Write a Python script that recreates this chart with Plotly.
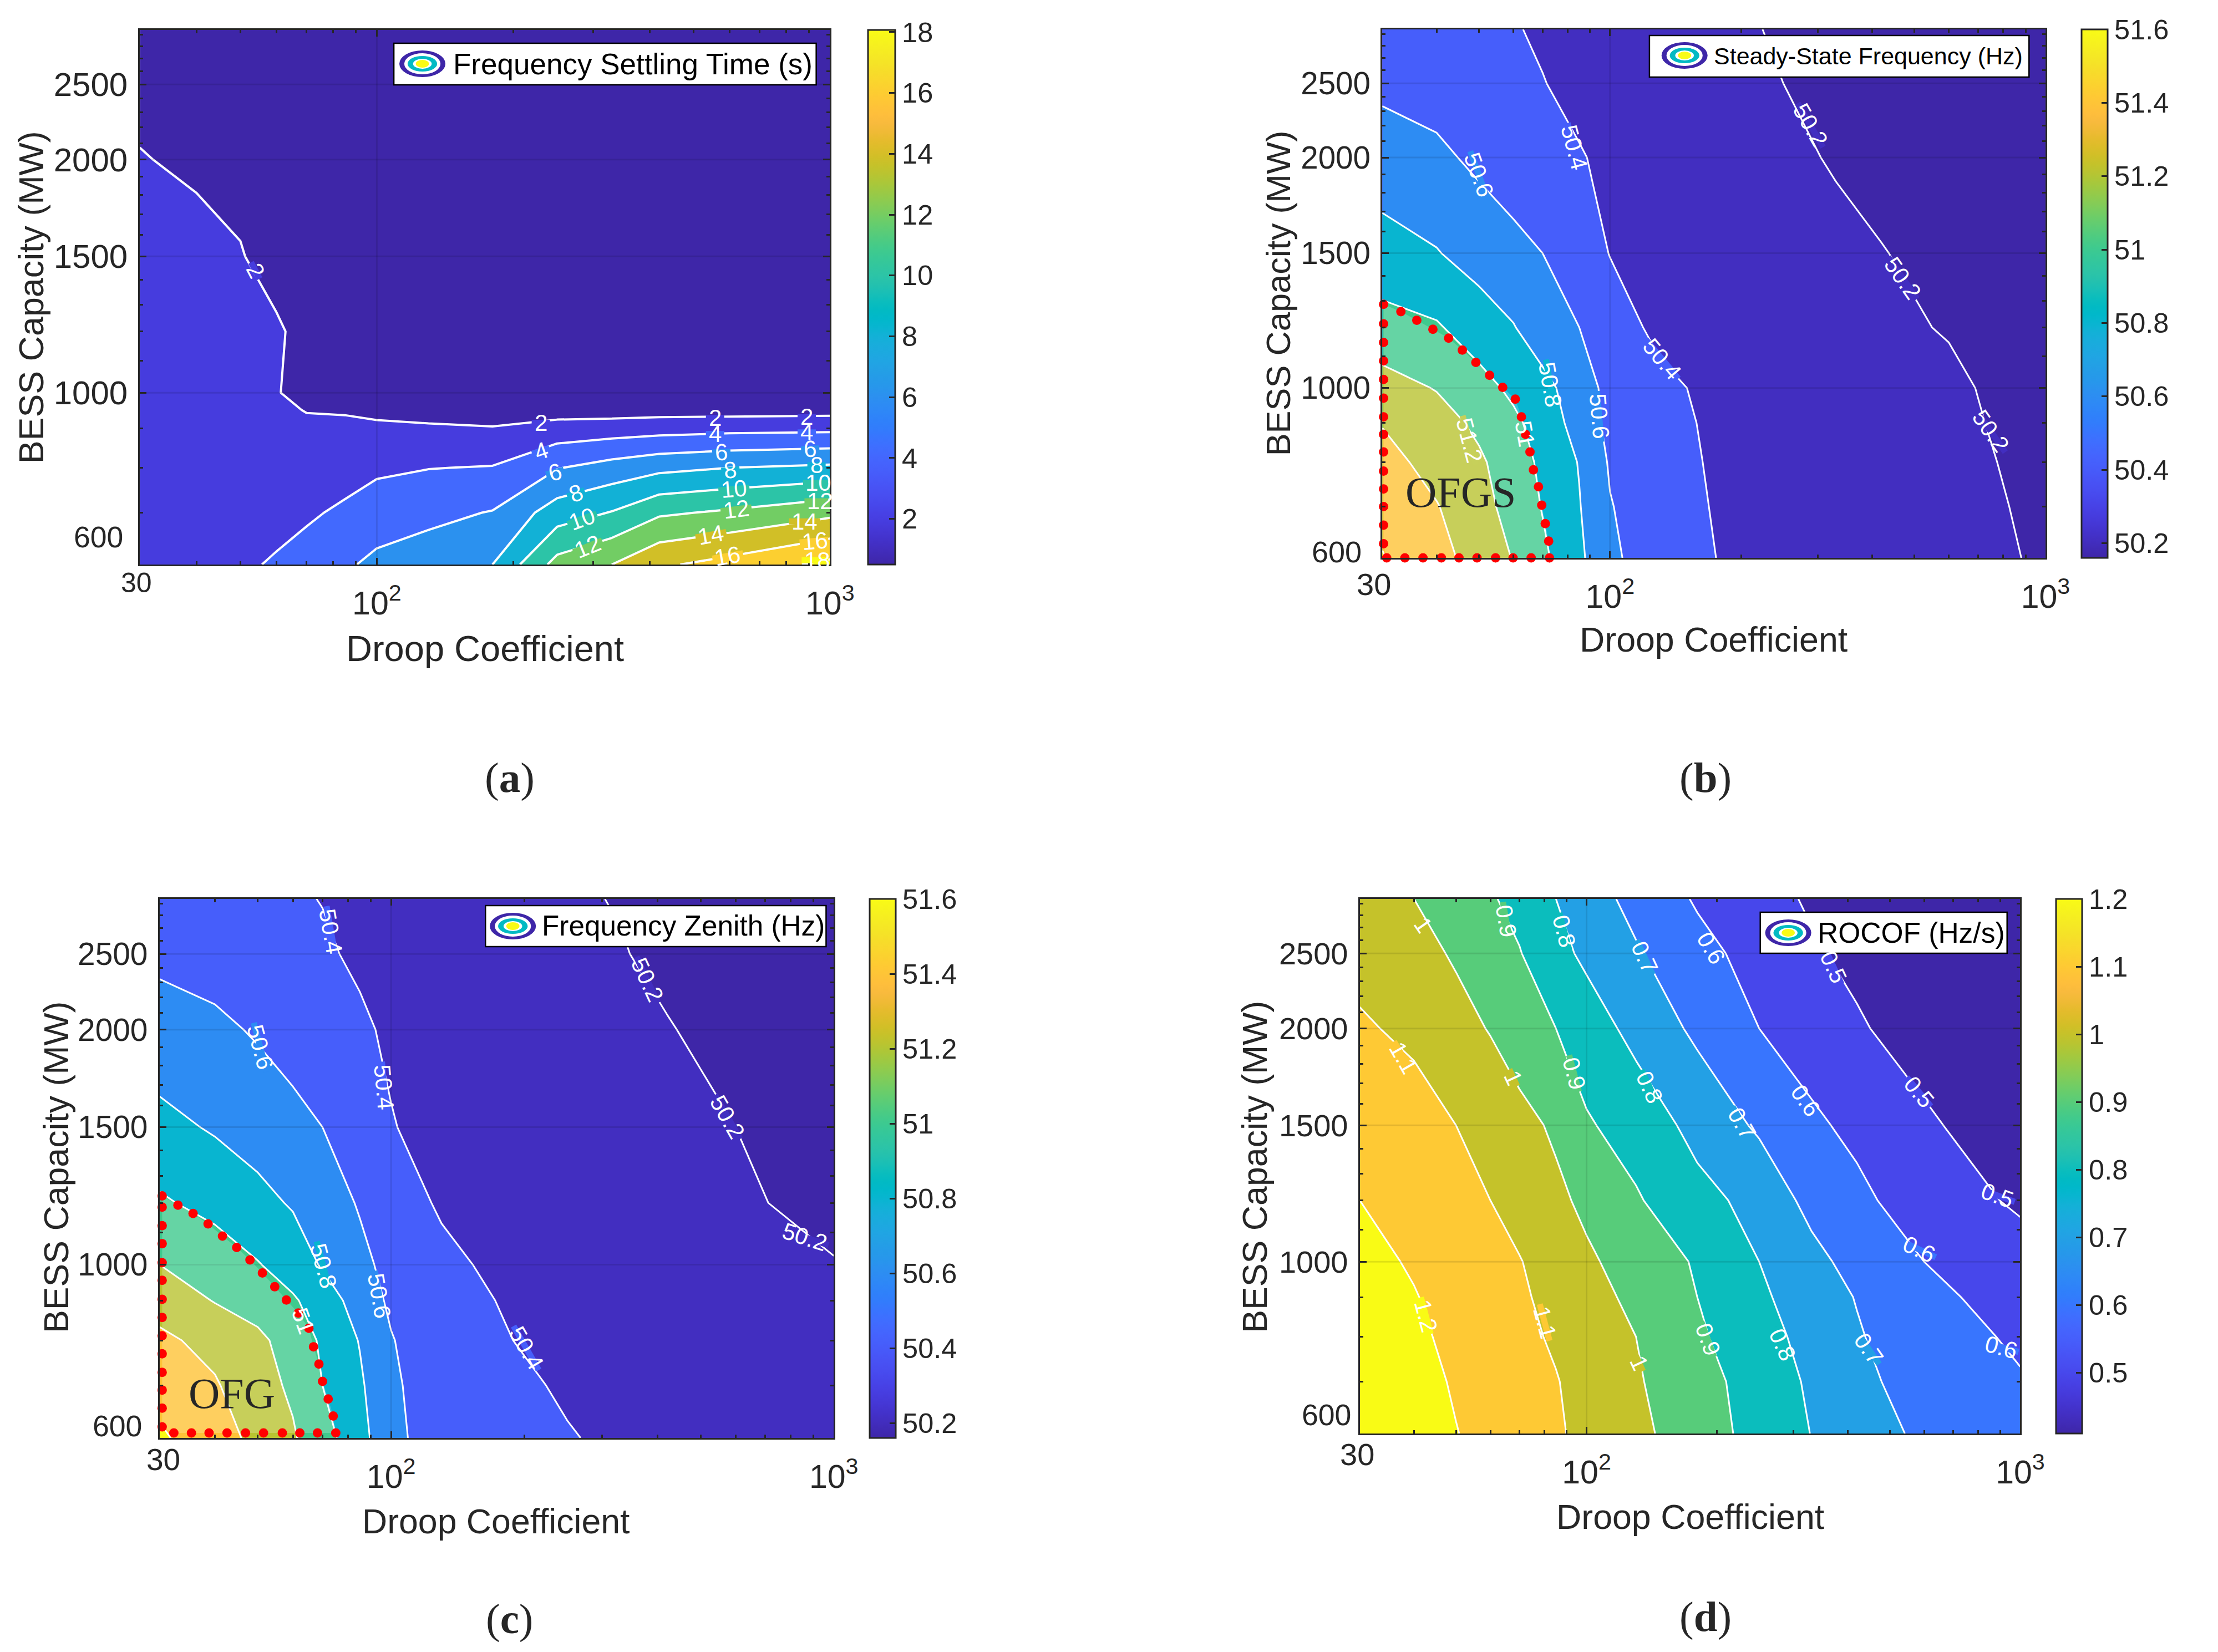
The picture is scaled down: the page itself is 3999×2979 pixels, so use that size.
import math
import plotly.graph_objects as go

W, H = 3999, 2979

# ---- data ----
DROOP = [30, 40, 50, 60, 70, 85, 100, 130, 180, 250, 330, 420, 600, 1000]

BESS_A = [600, 700, 800, 900, 950, 1000, 1200, 1500, 2000, 2500, 2940]
BESS = [600, 700, 800, 900, 1000, 1200, 1500, 2000, 2500, 2940]

SETTLING = [
    [3.0, 3.2, 3.7, 4.2, 4.7, 5.7, 6.5, 7.0, 8.0, 12.7, 14.0, 15.7, 16.7, 18.5],
    [3.0, 3.1, 3.3, 3.4, 3.75, 4.3, 4.9, 5.5, 6.1, 9.0, 10.1, 11.7, 12.3, 13.5],
    [3.0, 3.1, 3.0, 2.9, 3.0, 3.3, 3.7, 3.95, 4.1, 5.9, 6.8, 7.5, 8.0, 8.4],
    [3.0, 3.0, 2.8, 2.7, 2.5, 2.5, 2.4, 2.25, 2.1, 2.8, 3.0, 3.2, 3.4, 3.5],
    [2.9, 3.0, 2.8, 2.5, 1.9, 1.8, 1.5, 1.3, 1.0, 1.1, 1.1, 1.2, 1.2, 1.3],
    [2.9, 3.0, 2.7, 2.2, 0.85, 0.7, 0.6, 0.6, 0.6, 0.6, 0.6, 0.6, 0.6, 0.6],
    [2.8, 3.0, 2.5, 2.35, 1.2, 0.8, 0.7, 0.7, 0.7, 0.7, 0.7, 0.7, 0.7, 0.7],
    [2.6, 2.95, 2.15, 1.0, 0.9, 0.8, 0.7, 0.7, 0.7, 0.7, 0.7, 0.7, 0.7, 0.7],
    [2.15, 1.5, 1.2, 0.9, 0.8, 0.7, 0.7, 0.7, 0.7, 0.6, 0.6, 0.6, 0.6, 0.6],
    [1.2, 1.0, 0.9, 0.7, 0.7, 0.6, 0.6, 0.6, 0.6, 0.6, 0.6, 0.6, 0.6, 0.6],
    [1.0, 0.8, 0.7, 0.6, 0.6, 0.5, 0.5, 0.5, 0.5, 0.5, 0.5, 0.5, 0.5, 0.5],
]

STEADY = [
    [51.61, 51.46, 51.33, 51.19, 51.04, 50.84, 50.63, 50.51, 50.39, 50.35, 50.31, 50.28, 50.26, 50.18],
    [51.54, 51.41, 51.27, 51.13, 50.99, 50.81, 50.61, 50.48, 50.38, 50.34, 50.31, 50.28, 50.25, 50.17],
    [51.47, 51.33, 51.23, 51.10, 50.96, 50.79, 50.58, 50.47, 50.37, 50.33, 50.30, 50.27, 50.24, 50.16],
    [51.39, 51.28, 51.16, 51.04, 50.92, 50.72, 50.55, 50.46, 50.36, 50.32, 50.29, 50.27, 50.23, 50.15],
    [51.28, 51.19, 51.07, 50.96, 50.86, 50.70, 50.54, 50.44, 50.35, 50.31, 50.28, 50.25, 50.23, 50.12],
    [51.07, 51.02, 50.90, 50.81, 50.69, 50.60, 50.48, 50.36, 50.33, 50.29, 50.26, 50.23, 50.19, 50.10],
    [50.88, 50.81, 50.72, 50.65, 50.60, 50.49, 50.395, 50.34, 50.29, 50.26, 50.23, 50.205, 50.16, 50.08],
    [50.69, 50.64, 50.56, 50.51, 50.47, 50.41, 50.37, 50.32, 50.27, 50.225, 50.19, 50.16, 50.13, 50.07],
    [50.56, 50.52, 50.47, 50.44, 50.405, 50.36, 50.33, 50.29, 50.24, 50.20, 50.17, 50.15, 50.12, 50.06],
    [50.52, 50.48, 50.44, 50.41, 50.38, 50.34, 50.31, 50.27, 50.22, 50.19, 50.16, 50.14, 50.11, 50.05],
]

ZENITH = [
    [51.63, 51.48, 51.35, 51.22, 51.08, 50.87, 50.65, 50.50, 50.45, 50.41, 50.37, 50.34, 50.31, 50.27],
    [51.53, 51.42, 51.27, 51.17, 51.00, 50.83, 50.63, 50.50, 50.44, 50.38, 50.35, 50.32, 50.29, 50.25],
    [51.44, 51.34, 51.24, 51.12, 50.97, 50.79, 50.61, 50.48, 50.41, 50.34, 50.32, 50.30, 50.27, 50.23],
    [51.32, 51.19, 51.12, 51.02, 50.92, 50.70, 50.57, 50.46, 50.39, 50.32, 50.29, 50.27, 50.25, 50.21],
    [51.20, 51.11, 51.01, 50.92, 50.78, 50.66, 50.53, 50.44, 50.36, 50.30, 50.27, 50.25, 50.23, 50.205],
    [51.025, 50.94, 50.86, 50.78, 50.72, 50.58, 50.48, 50.38, 50.33, 50.28, 50.25, 50.23, 50.215, 50.17],
    [50.855, 50.78, 50.71, 50.65, 50.60, 50.47, 50.41, 50.33, 50.28, 50.25, 50.23, 50.215, 50.20, 50.13],
    [50.68, 50.64, 50.58, 50.53, 50.49, 50.43, 50.37, 50.31, 50.26, 50.23, 50.215, 50.205, 50.17, 50.10],
    [50.56, 50.52, 50.47, 50.44, 50.425, 50.37, 50.32, 50.28, 50.25, 50.22, 50.205, 50.18, 50.14, 50.08],
    [50.53, 50.49, 50.45, 50.42, 50.395, 50.35, 50.31, 50.27, 50.24, 50.212, 50.195, 50.17, 50.13, 50.07],
]

ROCOF = [
    [1.27, 1.24, 1.203, 1.17, 1.145, 1.11, 1.08, 1.024, 0.947, 0.866, 0.798, 0.75, 0.68, 0.62],
    [1.27, 1.235, 1.19, 1.155, 1.13, 1.105, 1.065, 1.01, 0.935, 0.86, 0.785, 0.735, 0.64, 0.605],
    [1.25, 1.22, 1.175, 1.15, 1.125, 1.087, 1.05, 1.0, 0.915, 0.835, 0.77, 0.71, 0.63, 0.59],
    [1.235, 1.205, 1.165, 1.135, 1.11, 1.08, 1.04, 0.975, 0.9, 0.815, 0.755, 0.695, 0.625, 0.56],
    [1.23, 1.19, 1.15, 1.125, 1.105, 1.05, 1.015, 0.96, 0.89, 0.8, 0.73, 0.665, 0.6, 0.54],
    [1.2, 1.16, 1.125, 1.10, 1.06, 1.02, 0.98, 0.91, 0.83, 0.77, 0.67, 0.62, 0.555, 0.485],
    [1.16, 1.14, 1.1, 1.06, 1.03, 0.985, 0.91, 0.86, 0.77, 0.685, 0.615, 0.58, 0.515, 0.44],
    [1.112, 1.08, 1.03, 0.995, 0.95, 0.9, 0.85, 0.77, 0.68, 0.6, 0.56, 0.51, 0.46, 0.41],
    [1.07, 1.03, 0.99, 0.95, 0.905, 0.83, 0.78, 0.71, 0.63, 0.565, 0.51, 0.48, 0.44, 0.4],
    [1.05, 1.0, 0.95, 0.91, 0.87, 0.8, 0.745, 0.67, 0.59, 0.53, 0.49, 0.46, 0.43, 0.39],
]

OFGS_X = [30.2, 30.2, 30.2, 30.2, 30.2, 30.2, 30.2, 30.2, 30.2, 30.2, 30.2, 30.2, 30.2, 30.2,
          30.7, 33.8, 37.2, 41.0, 45.0, 49.5, 54.6, 59.9, 65.9, 72.6,
          72.3, 71.0, 69.7, 68.5, 66.7, 65.5, 64.0, 62.6, 60.6, 56.7, 52.9, 49.2, 45.8, 42.6, 39.2, 36.0, 33.1]
OFGS_Y = [1286, 1213, 1147, 1085, 1026, 970, 917, 870, 825, 779, 738, 700, 662, 626,
          600, 600, 600, 600, 600, 600, 600, 600, 600, 600,
          631, 665, 703, 743, 782, 825, 870, 917, 967, 1002, 1039, 1080, 1121, 1162, 1193, 1226, 1258]

OFG_X = [30.4, 30.4, 30.4, 30.4, 30.4, 30.4, 30.4, 30.4, 30.4, 30.4, 30.4, 30.4, 30.4, 30.4,
         32.3, 35.4, 38.8, 42.6, 46.9, 51.5, 56.8, 62.2, 68.2, 75.0,
         74.0, 72.1, 70.0, 68.7, 66.8, 65.2, 61.7, 58.0, 54.6, 51.2, 48.0, 44.8, 41.6, 38.6, 35.7, 33.0]
OFG_Y = [1225, 1185, 1122, 1064, 1006, 955, 903, 856, 811, 769, 728, 691, 655, 620,
         609, 609, 609, 609, 609, 609, 609, 609, 609, 609,
         640, 673, 709, 746, 785, 829, 867, 901, 937, 976, 1014, 1052, 1088, 1128, 1163, 1192]

X_MAJOR = [100, 1000]
X_MAJOR_TEXT = ["10<sup>2</sup>", "10<sup>3</sup>"]
X_MINOR = [40, 50, 60, 70, 80, 90, 200, 300, 400, 500, 600, 700, 800, 900]
Y_MAJOR = [1000, 1500, 2000, 2500]
Y_MINOR = [700, 800, 900, 1100, 1200, 1300, 1400, 1600, 1700, 1800, 1900,
           2100, 2200, 2300, 2400, 2600, 2700, 2800, 2900]

CB_TICKS_A = [2, 4, 6, 8, 10, 12, 14, 16, 18]
CB_TICKS_B = [50.2, 50.4, 50.6, 50.8, 51, 51.2, 51.4, 51.6]
CB_TICKS_D = [0.5, 0.6, 0.7, 0.8, 0.9, 1, 1.1, 1.2]

# contour label texts with where they sit on the page (anchor units of a 1568-wide view) and their tilt
LABELS_A = [("2", 365, 510, 62), ("2", 773, 797, 0), ("2", 1022, 788, 0), ("2", 1153, 786, 0),
            ("4", 773, 850, -19), ("4", 1022, 818, 0), ("4", 1153, 815, 0),
            ("6", 793, 890, -15), ("6", 1031, 852, -3), ("6", 1158, 846, -3),
            ("8", 823, 930, -20), ("8", 1044, 886, -5), ("8", 1167, 877, 0),
            ("10", 832, 978, -20), ("10", 1049, 922, -5), ("10", 1170, 910, 0),
            ("12", 840, 1030, -22), ("12", 1052, 960, -7), ("12", 1172, 945, 0),
            ("14", 1016, 1008, -10), ("14", 1150, 983, 0),
            ("16", 1040, 1048, -10), ("16", 1165, 1020, -5), ("18", 1168, 1056, 0)]
LABELS_B = [("50.4", 682, 278, 75), ("50.4", 808, 677, 50),
            ("50.2", 1020, 236, 60), ("50.2", 1152, 524, 55), ("50.2", 1278, 813, 55),
            ("50.6", 546, 330, 70), ("50.6", 718, 785, 85), ("50.8", 648, 725, 80),
            ("51", 612, 818, 80), ("51.2", 532, 830, 75)]
LABELS_C = [("50.4", 473, 190, 80), ("50.4", 549, 488, 85), ("50.4", 752, 987, 60),
            ("50.2", 925, 283, 65), ("50.2", 1040, 545, 60), ("50.2", 1150, 775, 18),
            ("50.6", 372, 412, 75), ("50.6", 542, 887, 80), ("50.8", 462, 830, 75), ("51", 433, 935, 70)]
LABELS_D = [("1.2", 470, 925, 75), ("1.1", 438, 432, 60), ("1.1", 640, 938, 75),
            ("1", 466, 178, 55), ("1", 595, 470, 65), ("1", 775, 1015, 65),
            ("0.9", 585, 170, 80), ("0.9", 682, 462, 75), ("0.9", 873, 970, 70),
            ("0.8", 668, 190, 75), ("0.8", 790, 488, 65), ("0.8", 980, 980, 65),
            ("0.7", 783, 240, 65), ("0.7", 922, 557, 60), ("0.7", 1103, 988, 55),
            ("0.6", 878, 222, 60), ("0.6", 1013, 514, 55), ("0.6", 1175, 798, 25), ("0.6", 1293, 985, 15),
            ("0.5", 1053, 258, 65), ("0.5", 1175, 497, 50), ("0.5", 1287, 695, 20)]

PARULA = [
    (.2422,.1504,.6603),(.2504,.1650,.7076),(.2578,.1818,.7511),(.2647,.1978,.7952),
    (.2706,.2147,.8364),(.2751,.2342,.8710),(.2783,.2559,.8991),(.2803,.2782,.9221),
    (.2813,.3006,.9414),(.2810,.3228,.9579),(.2795,.3447,.9717),(.2760,.3667,.9829),
    (.2699,.3892,.9906),(.2602,.4123,.9952),(.2440,.4358,.9988),(.2206,.4603,.9973),
    (.1963,.4847,.9892),(.1834,.5074,.9798),(.1786,.5289,.9682),(.1764,.5499,.9520),
    (.1687,.5703,.9359),(.1540,.5902,.9218),(.1460,.6091,.9079),(.1380,.6276,.8973),
    (.1248,.6459,.8883),(.1113,.6635,.8763),(.0952,.6798,.8598),(.0689,.6948,.8394),
    (.0297,.7082,.8163),(.0036,.7203,.7917),(.0067,.7312,.7660),(.0433,.7411,.7394),
    (.0964,.7500,.7120),(.1408,.7584,.6842),(.1717,.7670,.6554),(.1938,.7758,.6251),
    (.2161,.7843,.5923),(.2470,.7918,.5567),(.2906,.7973,.5188),(.3406,.8008,.4789),
    (.3909,.8029,.4354),(.4456,.8024,.3909),(.5044,.7993,.3480),(.5616,.7942,.3045),
    (.6174,.7876,.2612),(.6720,.7793,.2227),(.7242,.7698,.1910),(.7738,.7598,.1646),
    (.8203,.7498,.1535),(.8634,.7406,.1596),(.9035,.7330,.1774),(.9393,.7288,.2100),
    (.9728,.7298,.2394),(.9956,.7434,.2371),(.9970,.7659,.2199),(.9952,.7893,.2028),
    (.9892,.8136,.1885),(.9786,.8386,.1766),(.9676,.8639,.1643),(.9610,.8890,.1537),
    (.9597,.9135,.1423),(.9628,.9373,.1265),(.9691,.9606,.1064),(.9769,.9839,.0805),
]


def rgb(c):
    return "rgb(%d,%d,%d)" % (round(c[0] * 255), round(c[1] * 255), round(c[2] * 255))


CONT_SCALE = [[i / 63, rgb(c)] for i, c in enumerate(PARULA)]


def parula_raw(p):
    p = min(1, max(0, p))
    return PARULA[round(p * 63)]


def parula_at(p):
    return rgb(parula_raw(p))


INK = "#262626"
SANS = "Liberation Sans"
SERIF = "Liberation Serif"


def px(x):
    return x / W


def py(y):
    return 1 - y / H


panels = [
    dict(x="x", y="y", box=(255, 54, 1513, 1018), cb=(1582, 1631), z=SETTLING, ys=BESS_A, lw=4,
         start=2, end=18, size=2, cmin=0.5, cmax=18.07, ticks=CB_TICKS_A,
         legend="Frequency Settling Time (s)", lbox=(718, 78, 1488, 153), icon=(770, 115), ltx=824, lfs=53,
         xt=(884, 1169), yt=(57, 536), cap="a", capxy=(929, 1402), t30=(249, 1051), t600=(179, 968),
         xfs=65, yfs=62.8, tfs=60, t30fs=50, t600fs=53.5,
         view=(0, 1.2755, 0, 0.9566), labels=LABELS_A),
    dict(x="x2", y="y2", box=(2520, 53, 3729, 1006), cb=(3795, 3842), z=STEADY, ys=BESS, lw=3,
         start=50.2, end=51.6, size=0.2, cmin=50.16, cmax=51.6, ticks=CB_TICKS_B,
         legend="Steady-State Frequency (Hz)", lbox=(3007, 64, 3699, 139), icon=(3071, 100), ltx=3122, lfs=43,
         xt=(3124, 1153), yt=(2331, 529), cap="b", capxy=(3109, 1402), t30=(2505, 1053), t600=(2437, 995),
         xfs=62.7, yfs=61.4, tfs=56.5, t30fs=56, t600fs=54,
         view=(2000, 1.2749, 0, 0.9566), labels=LABELS_B,
         dots=(OFGS_X, OFGS_Y), tag="OFGS", tagxy=(2663, 887)),
    dict(x="x3", y="y3", box=(291, 1621, 1520, 2593), cb=(1585, 1632), z=ZENITH, ys=BESS, lw=3,
         start=50.2, end=51.6, size=0.2, cmin=50.16, cmax=51.6, ticks=CB_TICKS_B,
         legend="Frequency Zenith (Hz)", lbox=(885, 1633, 1506, 1707), icon=(935, 1670), ltx=986, lfs=51.3,
         xt=(904, 2743), yt=(102, 2105), cap="c", capxy=(929, 2919), t30=(298, 2632), t600=(214, 2571),
         xfs=62.6, yfs=62.6, tfs=56.8, t30fs=55, t600fs=53.6,
         view=(0, 1.2755, 1500, 0.9432), labels=LABELS_C,
         dots=(OFG_X, OFG_Y), tag="OFG", tagxy=(423, 2512)),
    dict(x="x4", y="y4", box=(2479, 1621, 3683, 2585), cb=(3748, 3795), z=ROCOF, ys=BESS, lw=3,
         start=0.5, end=1.2, size=0.1, cmin=0.41, cmax=1.2, ticks=CB_TICKS_D,
         legend="ROCOF (Hz/s)", lbox=(3209, 1645, 3659, 1719), icon=(3260, 1682), ltx=3311, lfs=51.5,
         xt=(3081, 2735), yt=(2287, 2104), cap="d", capxy=(3109, 2915), t30=(2474, 2622), t600=(2418, 2551),
         xfs=62.7, yfs=62.7, tfs=56, t30fs=56, t600fs=53.6,
         view=(2000, 1.2749, 1500, 0.9432), labels=LABELS_D),
]

fig = go.Figure()
annotations = []
shapes = []
layout = {}

for p in panels:
    n = int(round((p["end"] - p["start"]) / p["size"])) + 1
    levels = [p["start"] + i * p["size"] for i in range(n)]
    colors = [parula_at(0)] + [parula_at((v - p["cmin"]) / (p["cmax"] - p["cmin"])) for v in levels]
    band_scale = [[i / n, c] for i, c in enumerate(colors)]
    fig.add_trace(go.Contour(
        x=DROOP, y=p["ys"], z=p["z"], xaxis=p["x"], yaxis=p["y"],
        autocontour=False, colorscale=band_scale, showscale=False,
        contours=dict(start=p["start"], end=p["end"], size=p["size"], coloring="fill", showlabels=False),
        line=dict(color="white", width=p["lw"], smoothing=0),
        hoverinfo="skip",
    ))
    gx, gy = [], []
    for v in Y_MAJOR:
        gx += [30, 1000, None]
        gy += [v, v, None]
    gx += [100, 100, None]
    gy += [p["ys"][0], p["ys"][-1], None]
    fig.add_trace(go.Scatter(x=gx, y=gy, xaxis=p["x"], yaxis=p["y"], mode="lines",
                             line=dict(color="rgba(0,0,0,0.10)", width=3), hoverinfo="skip",
                             showlegend=False))
    if "dots" in p:
        dx, dy = p["dots"]
        fig.add_trace(go.Scatter(x=dx, y=dy, xaxis=p["x"], yaxis=p["y"], mode="markers",
                                 fill="toself", fillcolor="rgba(255,255,255,0.2)",
                                 marker=dict(color="#ff0000", size=17), cliponaxis=False,
                                 hoverinfo="skip", showlegend=False))
        annotations.append(dict(x=px(p["tagxy"][0]), y=py(p["tagxy"][1]), xref="paper", yref="paper",
                                text=p["tag"], showarrow=False, xanchor="center", yanchor="middle",
                                font=dict(family=SERIF, size=78, color=INK)))
    x0, y0, x1, y1 = p["box"]
    fig.add_trace(go.Scatter(
        x=[30, 30], y=[700, 700], xaxis=p["x"], yaxis=p["y"], mode="markers",
        marker=dict(size=1, opacity=0, color=[p["cmin"], p["cmax"]], cmin=p["cmin"], cmax=p["cmax"],
                    colorscale=CONT_SCALE, showscale=True,
                    colorbar=dict(x=px(p["cb"][0]), xanchor="left", xpad=0, ypad=0,
                                  y=py(y1), yanchor="bottom", len=(y1 - y0) / H, lenmode="fraction",
                                  thickness=p["cb"][1] - p["cb"][0], thicknessmode="pixels",
                                  outlinecolor=INK, outlinewidth=3,
                                  tickmode="array", tickvals=p["ticks"],
                                  ticktext=["%g" % v for v in p["ticks"]],
                                  ticks="inside", ticklen=12, tickwidth=3, tickcolor=INK,
                                  tickfont=dict(family=SANS, size=50.5, color=INK))),
        hoverinfo="skip", showlegend=False))

    common = dict(type="log", showgrid=False, zeroline=False, showline=True, linecolor=INK, linewidth=3,
                  mirror="ticks", ticks="inside", ticklen=12, tickwidth=3, tickcolor=INK,
                  layer="above traces")
    xkey = "xaxis" + p["x"][1:]
    ykey = "yaxis" + p["y"][1:]
    layout[xkey] = dict(common, domain=[px(x0), px(x1)], anchor=p["y"],
                        range=[math.log10(30), 3], tickmode="array",
                        tickvals=X_MAJOR, ticktext=X_MAJOR_TEXT, ticklabelstandoff=16,
                        tickfont=dict(family=SANS, size=59, color=INK),
                        minor=dict(tickmode="array", tickvals=X_MINOR, ticks="inside", ticklen=6,
                                   tickwidth=3, tickcolor=INK, showgrid=False))
    layout[ykey] = dict(common, domain=[py(y1), py(y0)], anchor=p["x"],
                        range=[math.log10(600), math.log10(2940)], tickmode="array",
                        tickvals=Y_MAJOR, ticktext=[str(v) for v in Y_MAJOR], ticklabelstandoff=7,
                        tickfont=dict(family=SANS, size=p["tfs"], color=INK),
                        minor=dict(tickmode="array", tickvals=Y_MINOR, ticks="inside", ticklen=6,
                                   tickwidth=3, tickcolor=INK, showgrid=False))

    def txt(xy, text, size, family=SANS, angle=0):
        annotations.append(dict(x=px(xy[0]), y=py(xy[1]), xref="paper", yref="paper", text=text,
                                showarrow=False, xanchor="center", yanchor="middle", textangle=angle,
                                font=dict(family=family, size=size, color=INK)))

    txt(p["xt"], "Droop Coefficient", p["xfs"])
    txt(p["yt"], "BESS Capacity (MW)", p["yfs"], angle=-90)
    txt(p["capxy"], "(<b>%s</b>)" % p["cap"], 77, family=SERIF)
    txt(p["t30"], "30", p["t30fs"])
    txt(p["t600"], "600", p["t600fs"])

    # contour labels: a break in the white line, then the number along it
    ox, fx, oy, fy = p["view"]
    for text, zx, zy, ang in p["labels"]:
        cx = ox + zx * fx
        cy = oy + zy * fy
        level = float(text)
        lit = "dots" in p and level >= 51
        half = (len(text.replace(".", "")) * 0.556 + text.count(".") * 0.278) * 42 / 2 + 5
        c, s = math.cos(math.radians(ang)), math.sin(math.radians(ang))
        xa, xb = cx - half * c, cx + half * c
        ya, yb = cy - half * s, cy + half * s
        xa, xb = min(xa, x1 - 3), min(xb, x1 - 3)
        ya, yb = min(ya, y1 - 3), min(yb, y1 - 3)
        if not lit or level > 51:
            col = parula_raw((level - p["cmin"]) / (p["cmax"] - p["cmin"]))
            if lit:
                col = tuple(v * 0.8 + 0.2 for v in col)
            shapes.append(dict(type="line", xref="paper", yref="paper", x0=px(xa), x1=px(xb),
                               y0=py(ya), y1=py(yb), line=dict(color=rgb(col), width=11), layer="above"))
        annotations.append(dict(x=px(cx), y=py(cy), xref="paper", yref="paper", text=text, showarrow=False,
                                xanchor="center", yanchor="middle", textangle=ang,
                                font=dict(family=SANS, size=42, color="white")))

    lx0, ly0, lx1, ly1 = p["lbox"]
    shapes.append(dict(type="rect", xref="paper", yref="paper", x0=px(lx0), x1=px(lx1), y0=py(ly1), y1=py(ly0),
                       fillcolor="white", line=dict(color="black", width=2.5), layer="above"))
    cx, cy = p["icon"]
    for rx, ry, col in [(42, 24, parula_at(0)), (33, 19, "white"), (27, 14, rgb(PARULA[30])),
                        (17, 9, "white"), (12, 7, rgb(PARULA[63]))]:
        shapes.append(dict(type="circle", xref="paper", yref="paper", x0=px(cx - rx), x1=px(cx + rx),
                           y0=py(cy + ry), y1=py(cy - ry), fillcolor=col, line=dict(width=0), layer="above"))
    annotations.append(dict(x=px(p["ltx"]), y=py((ly0 + ly1) / 2), xref="paper", yref="paper",
                            text=p["legend"], showarrow=False, xanchor="left", yanchor="middle",
                            font=dict(family=SANS, size=p["lfs"], color="black")))

fig.update_layout(width=W, height=H, margin=dict(l=0, r=0, t=0, b=0), paper_bgcolor="white",
                  plot_bgcolor="white", showlegend=False, annotations=annotations, shapes=shapes, **layout)

fig.write_html("out.html", config=dict(displayModeBar=False),
               post_script="document.body.style.margin='0';document.body.style.overflow='hidden';")
